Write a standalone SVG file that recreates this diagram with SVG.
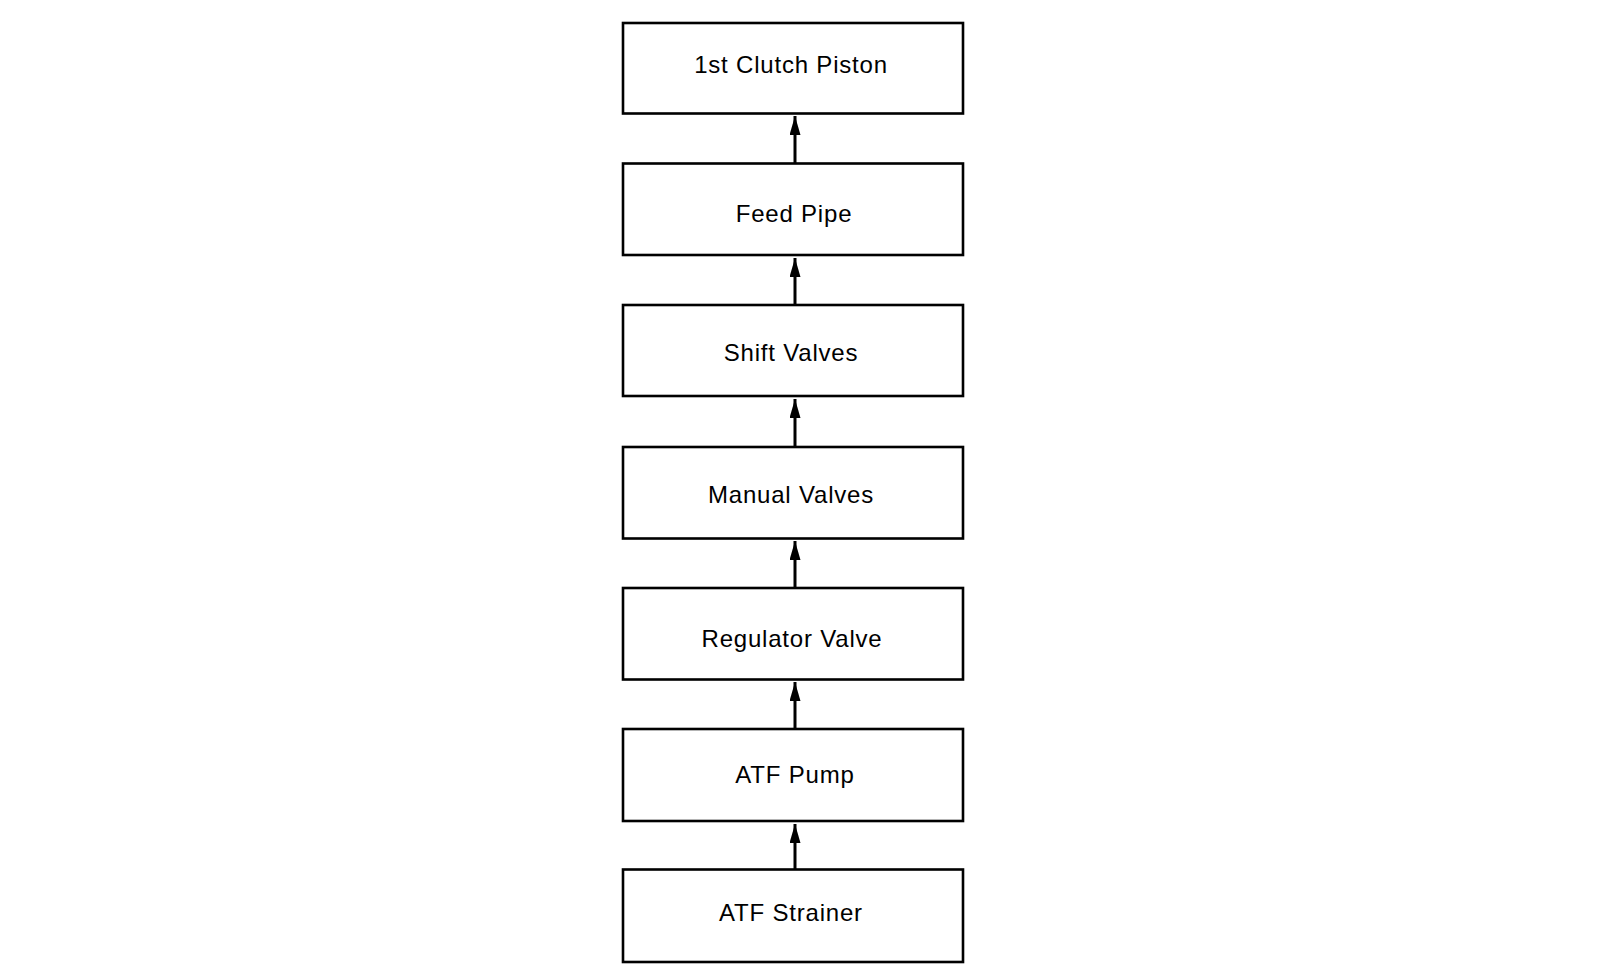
<svg xmlns="http://www.w3.org/2000/svg" width="1600" height="980" viewBox="0 0 1600 980">
<style>
.box{fill:#fff;stroke:#000;stroke-width:2.6}
.lbl{font-family:"Liberation Sans",Arial,sans-serif;font-size:24px;letter-spacing:0.8px;fill:#000;text-anchor:middle}
.conn{stroke:#000;stroke-width:3;fill:none}
</style>
<defs>
<marker id="ah" markerUnits="userSpaceOnUse" markerWidth="20" markerHeight="12" refX="19" refY="5.5" orient="auto">
<path d="M0,0 L19,5.5 L0,11 z" fill="#000"/>
</marker>
</defs>
<rect width="1600" height="980" fill="#fff"/>
<g id="connectors">
<line class="conn" x1="795" y1="163" x2="795" y2="116" marker-end="url(#ah)"/>
<line class="conn" x1="795" y1="305" x2="795" y2="258" marker-end="url(#ah)"/>
<line class="conn" x1="795" y1="447" x2="795" y2="399" marker-end="url(#ah)"/>
<line class="conn" x1="795" y1="588" x2="795" y2="541" marker-end="url(#ah)"/>
<line class="conn" x1="795" y1="729" x2="795" y2="682" marker-end="url(#ah)"/>
<line class="conn" x1="795" y1="869" x2="795" y2="824" marker-end="url(#ah)"/>
</g>
<g id="n1"><rect class="box" x="623" y="23" width="340" height="90.5"/><text class="lbl" x="791" y="73">1st Clutch Piston</text></g>
<g id="n2"><rect class="box" x="623" y="163.5" width="340" height="91.5"/><text class="lbl" x="794" y="222">Feed Pipe</text></g>
<g id="n3"><rect class="box" x="623" y="305" width="340" height="91"/><text class="lbl" x="791" y="361">Shift Valves</text></g>
<g id="n4"><rect class="box" x="623" y="447" width="340" height="91.5"/><text class="lbl" x="791" y="503">Manual Valves</text></g>
<g id="n5"><rect class="box" x="623" y="588" width="340" height="91.5"/><text class="lbl" x="792" y="647">Regulator Valve</text></g>
<g id="n6"><rect class="box" x="623" y="729" width="340" height="92"/><text class="lbl" x="795" y="783">ATF Pump</text></g>
<g id="n7"><rect class="box" x="623" y="869.5" width="340" height="92.5"/><text class="lbl" x="791" y="921">ATF Strainer</text></g>
</svg>
